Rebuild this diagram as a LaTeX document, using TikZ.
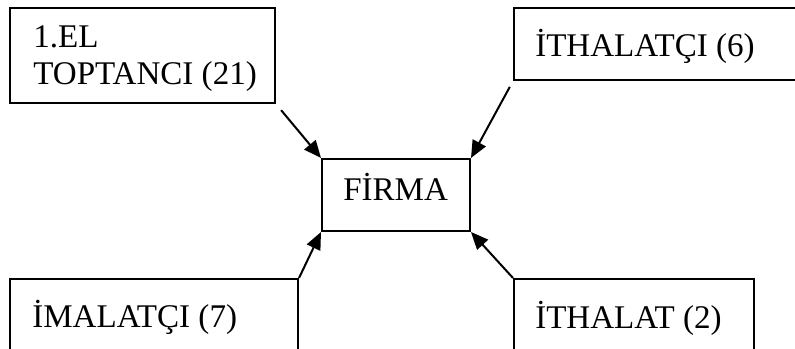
\documentclass[tikz,border=0pt]{standalone}
\usepackage{fontspec}
\setmainfont{Liberation Serif}
\usetikzlibrary{arrows.meta}
\begin{document}
\begin{tikzpicture}[x=0.75pt,y=-0.75pt,
  box/.style={draw=black,line width=1.5pt,rectangle,inner sep=0pt,
    minimum width=#1},
  lbl/.style={anchor=base west,inner sep=0pt,align=left,
    font=\fontsize{24.8pt}{27.75pt}\selectfont},
  link/.style={line width=1.5pt,-{Triangle[length=13pt,width=11pt]}}]
\useasboundingbox (0,0) rectangle (795,349);
\clip (0,0) rectangle (795,349);
% supplier boxes around the firm
\node[box=265*0.75pt,minimum height=95*0.75pt] (tl) at (142.5,55.5) {};
\node[box=316*0.75pt,minimum height=72*0.75pt] (tr) at (672,44) {};
\node[box=148*0.75pt,minimum height=72*0.75pt] (firma) at (396,195) {};
\node[box=288*0.75pt,minimum height=121*0.75pt] (bl) at (154,339.5) {};
\node[box=240*0.75pt,minimum height=121*0.75pt] (br) at (634,339.5) {};
% texts
\node[lbl] (tlt) at (33,85) {1.EL\\TOPTANCI (21)};
\node[lbl] (trt) at (535,57) {İTHALATÇI (6)};
\node[lbl] (ft) at (343,200) {FİRMA};
\node[lbl] (blt) at (32,327) {İMALATÇI (7)};
\node[lbl] (brt) at (535,328) {İTHALAT (2)};
% arrows into the firm
\draw[link,shorten <=6pt] (tl.south east) -- (firma.north west);
\draw[link,shorten <=5pt] (tr.south west) -- (firma.north east);
\draw[link] (bl.north east) -- (firma.south west);
\draw[link] (br.north west) -- (firma.south east);
\end{tikzpicture}
\end{document}
